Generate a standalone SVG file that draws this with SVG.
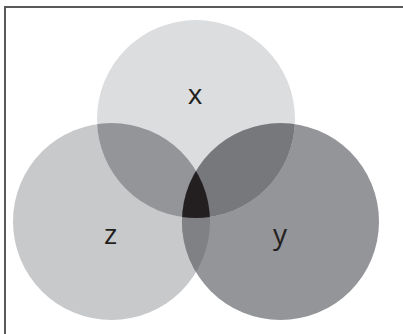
<svg xmlns="http://www.w3.org/2000/svg" width="403" height="334" viewBox="0 0 403 334">
  <style>
    .lbl { font-family: "Open Sans", "Liberation Sans", sans-serif; font-size: 28px; fill: #231f20; text-anchor: middle; }
  </style>
  <defs>
    <clipPath id="clipX"><circle cx="196" cy="119" r="99"/></clipPath>
    <clipPath id="clipY"><circle cx="280.5" cy="221.5" r="98.5"/></clipPath>
    <clipPath id="clipZ"><circle cx="111.5" cy="221.5" r="98.5"/></clipPath>
  </defs>
  <rect x="0" y="0" width="403" height="334" fill="#ffffff"/>
  <!-- outer frame, runs off the right and bottom edges -->
  <rect x="5" y="7" width="420" height="360" fill="none" stroke="#58595b" stroke-width="2"/>

  <g id="node-z">
    <circle cx="111.5" cy="221.5" r="98.5" fill="#c8c9cb"/>
  </g>
  <g id="node-y">
    <circle cx="280.5" cy="221.5" r="98.5" fill="#939598"/>
  </g>
  <g id="node-x">
    <circle cx="196" cy="119" r="99" fill="#dcdddf"/>
  </g>

  <g id="overlaps">
    <circle cx="196" cy="119" r="99" fill="#949598" clip-path="url(#clipZ)"/>
    <circle cx="196" cy="119" r="99" fill="#77787b" clip-path="url(#clipY)"/>
    <circle cx="280.5" cy="221.5" r="98.5" fill="#808184" clip-path="url(#clipZ)"/>
    <g clip-path="url(#clipZ)">
      <circle cx="196" cy="119" r="99" fill="#231f20" clip-path="url(#clipY)"/>
    </g>
  </g>

  <g id="labels">
    <text class="lbl" x="195" y="104">x</text>
    <text class="lbl" x="110.5" y="244">z</text>
    <text class="lbl" x="280" y="244">y</text>
  </g>
</svg>
